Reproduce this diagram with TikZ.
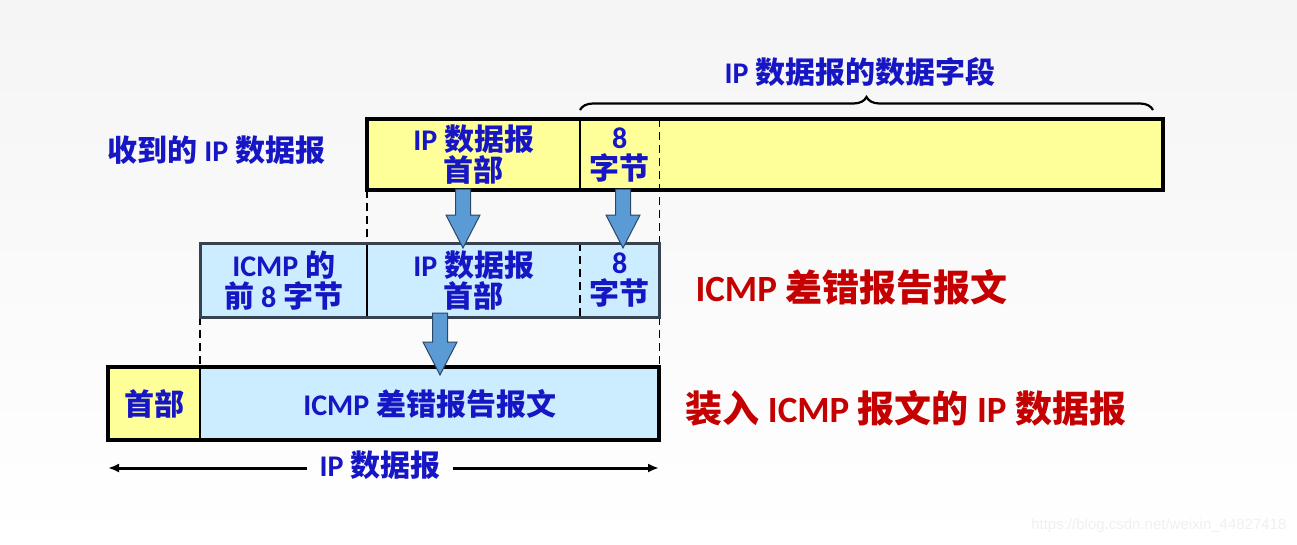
\documentclass[tikz,border=0pt]{standalone}
\usepackage{fontspec}
\setmainfont{Carlito}
\newfontfamily\cjk{Noto Sans CJK SC}
\newfontfamily\wmfont{Liberation Sans}
\usetikzlibrary{arrows.meta,decorations.pathreplacing}
\newcommand{\zh}[1]{{\cjk #1}}
\definecolor{txtblue}{RGB}{22,22,196}
\definecolor{txtred}{RGB}{196,0,0}
\definecolor{boxyellow}{RGB}{255,255,153}
\definecolor{boxblue}{RGB}{204,236,255}
\definecolor{arrowblue}{RGB}{91,155,213}
\definecolor{arrowline}{RGB}{45,70,100}
\definecolor{midframe}{RGB}{55,65,80}
\tikzset{
	field/.style={draw=none, inner sep=0pt, anchor=north west, align=center,
		text=txtblue, font=\bfseries\fontsize{30}{31}\selectfont},
	bluelabel/.style={text=txtblue, font=\bfseries\fontsize{30}{32}\selectfont},
	redlabel/.style={text=txtred, font=\bfseries\fontsize{37}{39}\selectfont, anchor=west},
	frame/.style={line width=4pt, line join=miter},
	midbox/.style={line width=3pt, draw=midframe},
	guide/.style={dashed, dash pattern=on 8pt off 5pt, line width=1.4pt},
	blockarrow/.style={fill=arrowblue, draw=arrowline, line width=1pt, line join=miter}
}
\begin{document}
\begin{tikzpicture}[x=1pt, y=-1pt]
	\useasboundingbox (0,0) rectangle (1297,544);
	\fill[top color=black!4, bottom color=white] (0,0) rectangle (1297,544);

	% received datagram
	\node[field, fill=boxyellow, minimum width=213, minimum height=71] (rcvhdr) at (367,119) {IP \zh{数据报}\\\zh{首部}};
	\node[field, fill=boxyellow, minimum width=79, minimum height=71] (rcv8) at (580,119) {8\\\zh{字节}};
	\node[field, fill=boxyellow, minimum width=504, minimum height=71] (rcvdata) at (659,119) {};

	% icmp message
	\node[field, fill=boxblue, minimum width=167, minimum height=74] (icmp8) at (200,243) {ICMP \zh{的}\\\zh{前} 8 \zh{字节}};
	\node[field, fill=boxblue, minimum width=213, minimum height=74] (midhdr) at (367,243) {IP \zh{数据报}\\\zh{首部}};
	\node[field, fill=boxblue, minimum width=79, minimum height=74] (mid8) at (580,243) {8\\\zh{字节}};

	% new ip datagram
	\node[field, fill=boxyellow, minimum width=92, minimum height=73] (bothdr) at (108,367) {\zh{首部}};
	\node[field, fill=boxblue, minimum width=459, minimum height=73] (botmsg) at (200,367) {ICMP \zh{差错报告报文}};

	% guide lines
	\draw[guide] (rcv8.north east) -- (mid8.north east);
	\draw[guide] (rcvhdr.south west) -- (midhdr.north west);
	\draw[guide] (mid8.north west) -- (mid8.south west);
	\draw[guide] (icmp8.south west) -- (botmsg.north west);
	\draw[guide] (mid8.south east) -- (botmsg.north east);

	% frames
	\draw[line width=1.2pt] (rcv8.north west) -- (rcv8.south west);
	\draw[frame] (rcvhdr.north west) rectangle (rcvdata.south east);
	\draw[line width=1.2pt] (midhdr.north west) -- (midhdr.south west);
	\draw[midbox] (icmp8.north west) rectangle (mid8.south east);
	\draw[line width=2.8pt] (botmsg.north west) -- (botmsg.south west);
	\draw[frame] (bothdr.north west) rectangle (botmsg.south east);

	% block arrows
	\foreach \ax/\atop/\abot in {463/189/248, 623/189/248, 440/313/375}{
			\draw[blockarrow] (\ax-7.5,\atop) -- (\ax+7.5,\atop) -- (\ax+7.5,\abot-33)
				-- (\ax+17,\abot-33) -- (\ax,\abot) -- (\ax-17,\abot-33)
				-- (\ax-7.5,\abot-33) -- cycle;
		}

	% brace over the data field
	\draw[decorate, decoration={brace, amplitude=13pt, aspect=0.5}, line width=2.2pt]
		(580,110) -- (1153,110);
	\node[bluelabel] (datafield) at (860,72) {IP \zh{数据报的数据字段}};

	% labels
	\node[bluelabel, anchor=west] (rcvlabel) at (104,150) {\zh{收到的} IP \zh{数据报}};
	\node[redlabel] (icmplabel) at (692,287) {ICMP \zh{差错报告报文}};
	\node[redlabel] (newlabel) at (682,408) {\zh{装入} ICMP \zh{报文的} IP \zh{数据报}};

	% datagram length
	\coordinate (lenL) at (108,468);
	\coordinate (lenR) at (659,468);
	\node[bluelabel, inner xsep=12pt, inner ysep=0pt] (iplen) at (380,465) {IP \zh{数据报}};
	\draw[line width=3pt, -{Latex[length=11pt, width=9pt]}] (iplen.west |- lenL) -- (lenL);
	\draw[line width=3pt, -{Latex[length=11pt, width=9pt]}] (iplen.east |- lenR) -- (lenR);

	\node[text=black!6, font=\wmfont\fontsize{15}{15}\selectfont, anchor=south east] (watermark) at (1290,536) {https://blog.csdn.net/weixin\_44827418};
\end{tikzpicture}
\end{document}
